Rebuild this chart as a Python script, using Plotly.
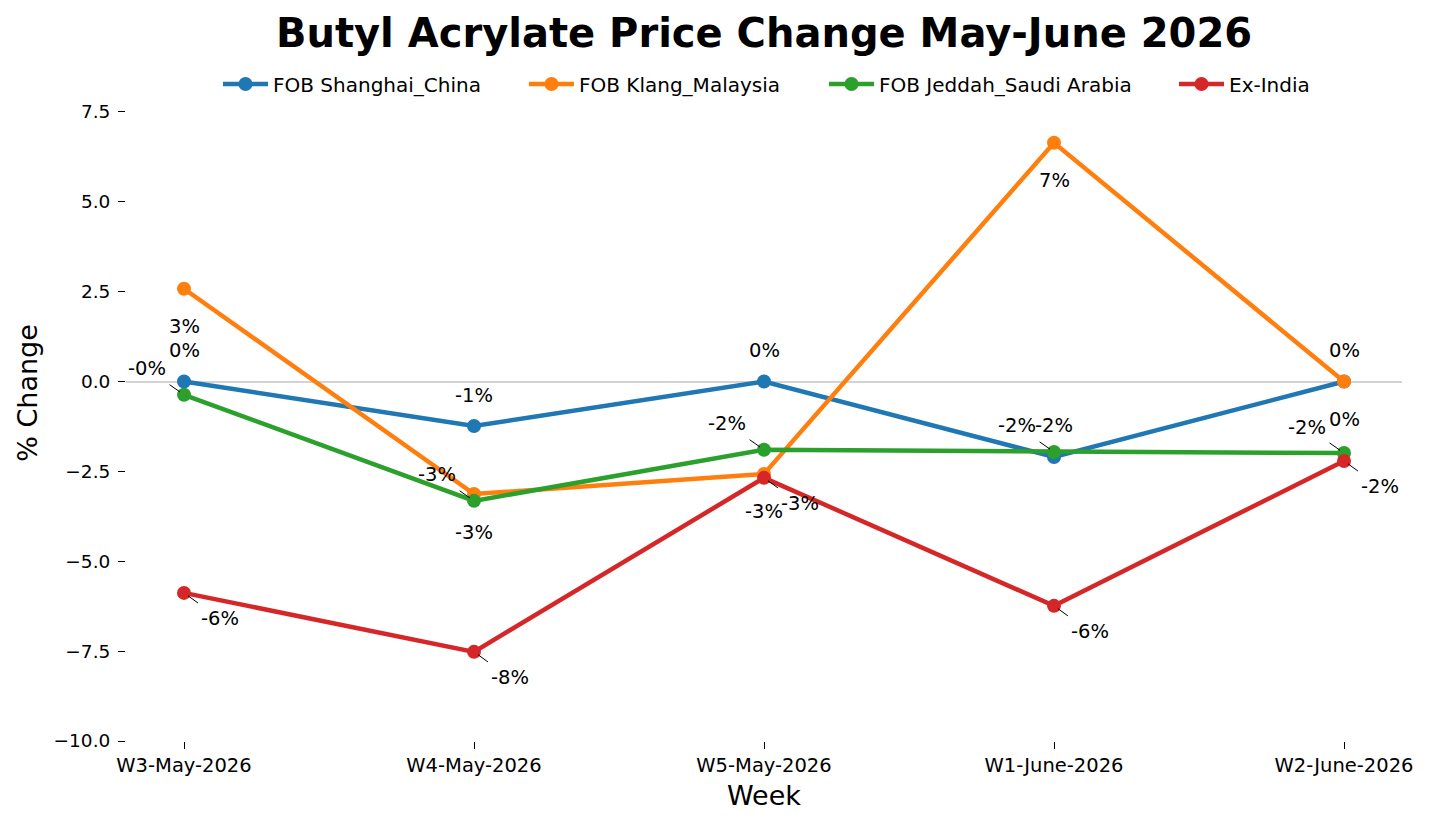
import plotly.graph_objects as go

weeks = ["W3-May-2026", "W4-May-2026", "W5-May-2026", "W1-June-2026", "W2-June-2026"]
shanghai = [0.0, -1.24, 0.0, -2.10, 0.0]
klang = [2.58, -3.13, -2.57, 6.64, 0.0]
jeddah = [-0.37, -3.32, -1.90, -1.96, -1.99]
india = [-5.88, -7.52, -2.68, -6.24, -2.21]
series_names = ["FOB Shanghai_China", "FOB Klang_Malaysia", "FOB Jeddah_Saudi Arabia", "Ex-India"]
series_values = [shanghai, klang, jeddah, india]
colors = ["#1f77b4", "#ff7f0e", "#2ca02c", "#d62728"]
y_ticks = [-10.0, -7.5, -5.0, -2.5, 0.0, 2.5, 5.0, 7.5]

FONT = "DejaVu Sans"
PLOT_L, PLOT_W = 126, 1276
legend_ids = ["legend", "legend2", "legend3", "legend4"]
legend_px = [218, 524, 824, 1174]   # left edge of each legend entry (px)

# label placement style per series (offsets in px)
label_styles = [
    dict(showarrow=False, yshift=31),
    dict(showarrow=False, yshift=-38),
    dict(showarrow=True, ax=-37, ay=-26),
    dict(showarrow=True, ax=36, ay=26),
]

fig = go.Figure()
for name, vals, col, lid in zip(series_names, series_values, colors, legend_ids):
    fig.add_trace(go.Scatter(
        x=weeks, y=vals, name=name, mode="lines+markers", legend=lid,
        line=dict(color=col, width=4.5),
        marker=dict(color=col, size=14),
    ))

annotations = []
for vals, style in zip(series_values, label_styles):
    for wk, v in zip(weeks, vals):
        a = dict(x=wk, y=v, xref="x", yref="y", text=f"{v:.0f}%",
                 font=dict(family=FONT, size=19.5, color="black"))
        if style.get("showarrow"):
            a.update(showarrow=True, ax=style["ax"], ay=style["ay"], axref="pixel", ayref="pixel",
                     arrowhead=0, arrowwidth=1, arrowcolor="black", standoff=5, startstandoff=5)
        else:
            a.update(showarrow=False, yshift=style["yshift"])
        annotations.append(a)

legend_layout = {}
for lid, px in zip(legend_ids, legend_px):
    legend_layout[lid] = dict(
        orientation="h", x=(px - PLOT_L) / PLOT_W, xanchor="left", xref="paper",
        y=1 - (84 - 45) / 696, yanchor="middle", itemwidth=45,
        font=dict(family=FONT, size=20), bgcolor="rgba(0,0,0,0)",
    )

fig.update_layout(
    width=1430, height=826,
    paper_bgcolor="white", plot_bgcolor="white",
    margin=dict(l=126, r=28, t=45, b=85),
    font=dict(family=FONT, size=20, color="black"),
    title=dict(text="<b>Butyl Acrylate Price Change May-June 2026</b>",
               x=0.5, xref="paper", xanchor="center",
               y=1 - 33 / 826, yref="container", yanchor="middle",
               font=dict(family=FONT, size=40, color="black")),
    showlegend=True,
    annotations=annotations,
    **legend_layout,
)
fig.update_xaxes(
    type="category", range=[-0.2, 4.2],
    showgrid=False, showline=False, zeroline=False,
    ticks="outside", ticklen=7, tickwidth=1.2, tickcolor="black",
    tickfont=dict(family=FONT, size=19.5),
    title=dict(text="Week", font=dict(family=FONT, size=27), standoff=9),
)
fig.update_yaxes(
    range=[-10, 9.36], tickvals=y_ticks, tickformat=".1f",
    showgrid=False, showline=False,
    zeroline=True, zerolinecolor="#d3d3d3", zerolinewidth=2,
    ticks="outside", ticklen=7, tickwidth=1.2, tickcolor="black",
    ticklabelstandoff=4,
    tickfont=dict(family=FONT, size=18.5),
    title=dict(text="% Change", font=dict(family=FONT, size=27), standoff=8),
)

fig.write_html("out.html")
